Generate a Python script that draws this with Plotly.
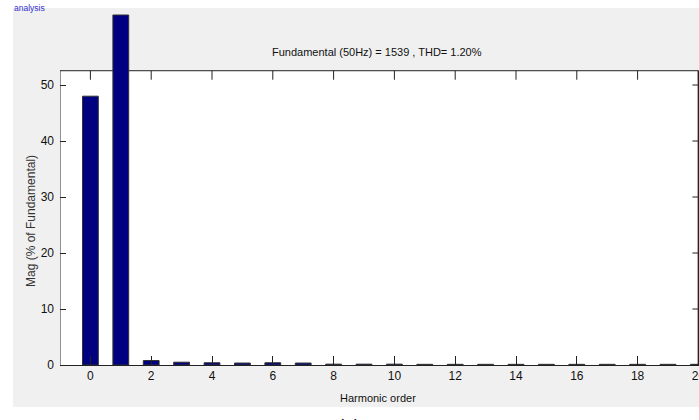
import plotly.graph_objects as go

harmonic = list(range(0, 21))
mag = [48.0, 62.5, 0.8, 0.5, 0.4, 0.35, 0.4, 0.35, 0.15, 0.15, 0.15,
       0.12, 0.12, 0.12, 0.12, 0.12, 0.12, 0.12, 0.12, 0.12, 0.12]
x_ticks = list(range(0, 21, 2))
y_ticks = [0, 10, 20, 30, 40, 50]
title_text = "Fundamental (50Hz) = 1539 , THD= 1.20%"

W, H = 699, 420
L, R, T, B = 60, 0, 8, 55
pw, ph = W - L - R, H - T - B

X_PX = 30.4          # px per harmonic step
Y_PX = 5.6           # px per percent
X_MIN, X_MAX = -1, 20  # frame limits
Y_TOP = 52.55          # frame top (data units)
x_range = [X_MIN, X_MIN + pw / X_PX]
y_range = [0, ph / Y_PX]


def px(x):
    return (x - L) / pw


def py(y):
    return (H - B - y) / ph


FONT = "Liberation Sans, Arial, sans-serif"
AX = "#222222"

fig = go.Figure()
fig.add_trace(go.Bar(
    x=harmonic, y=mag, width=0.52,
    marker=dict(color="#000080", line=dict(color="#333333", width=1)),
))

shapes = [
    dict(type="rect", xref="paper", yref="paper",
         x0=px(13), x1=px(700), y0=py(407), y1=py(8),
         fillcolor="#f0f0f0", line=dict(width=0), layer="below"),
    dict(type="rect", xref="x", yref="y", x0=X_MIN, x1=X_MAX, y0=0, y1=Y_TOP,
         fillcolor="white", line=dict(width=0), layer="below"),
    dict(type="line", xref="x", yref="y", x0=X_MIN, x1=X_MAX, y0=Y_TOP, y1=Y_TOP,
         line=dict(color=AX, width=1), layer="below"),
    dict(type="line", xref="x", yref="y", x0=X_MIN, x1=X_MIN, y0=0, y1=Y_TOP,
         line=dict(color=AX, width=1), layer="above"),
    dict(type="line", xref="x", yref="y", x0=X_MAX, x1=X_MAX, y0=0, y1=Y_TOP,
         line=dict(color=AX, width=1.5), layer="above"),
]
for t in x_ticks:
    shapes.append(dict(type="line", xref="x", yref="y", x0=t, x1=t,
                       y0=Y_TOP, y1=Y_TOP - 9 / Y_PX,
                       line=dict(color=AX, width=1), layer="below"))
for v in y_ticks:
    shapes.append(dict(type="line", xref="x", yref="y", x0=X_MAX, x1=X_MAX - 6 / X_PX,
                       y0=v, y1=v, line=dict(color=AX, width=1), layer="above"))

fig.update_layout(
    width=W, height=H,
    margin=dict(l=L, r=R, t=T, b=B, autoexpand=False),
    paper_bgcolor="white",
    plot_bgcolor="rgba(0,0,0,0)",
    showlegend=False,
    xaxis=dict(range=x_range, tickvals=x_ticks, ticks="inside", ticklen=9,
               showgrid=False, zeroline=False, showline=True, linecolor=AX,
               linewidth=1, tickcolor=AX, ticklabeloverflow="allow",
               automargin=False,
               tickfont=dict(family=FONT, size=12, color="#111111")),
    yaxis=dict(range=y_range, tickvals=y_ticks, ticks="inside", ticklen=6,
               showgrid=False, zeroline=False, showline=False,
               tickcolor=AX, ticklabelstandoff=5, automargin=False,
               tickfont=dict(family=FONT, size=12, color="#111111")),
    shapes=shapes,
    annotations=[
        dict(text=title_text, xref="paper", yref="paper", x=px(377), y=py(52),
             xanchor="center", yanchor="middle", showarrow=False,
             font=dict(family=FONT, size=11, color="#111111")),
        dict(text="Harmonic order", xref="paper", yref="paper", x=px(378), y=py(398),
             xanchor="center", yanchor="middle", showarrow=False,
             font=dict(family=FONT, size=11, color="#111111")),
        dict(text="Mag (% of Fundamental)", xref="paper", yref="paper", x=px(31), y=py(221),
             xanchor="center", yanchor="middle", showarrow=False, textangle=-90,
             font=dict(family=FONT, size=12, color="#333333")),
        dict(text="analysis", xref="paper", yref="paper", x=px(12), y=py(15),
             xanchor="left", yanchor="bottom", showarrow=False,
             font=dict(family=FONT, size=8.5, color="#3030d0")),
        dict(text="(a)", xref="paper", yref="paper", x=px(349), y=py(414),
             xanchor="center", yanchor="top", showarrow=False,
             font=dict(family=FONT, size=18, color="#111111")),
    ],
)

fig.write_html("out.html", config={"displayModeBar": False},
               post_script="document.body.style.margin='0';")
